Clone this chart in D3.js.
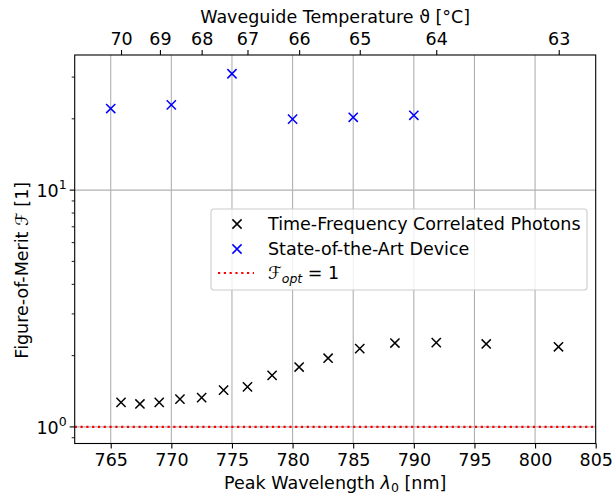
<!DOCTYPE html>
<html>
<head>
<meta charset="utf-8">
<script src="https://cdn.jsdelivr.net/npm/d3@7"></script>
<style>
  body { margin: 0; background: #fff; }
  text { font-family: "DejaVu Sans", sans-serif; fill: #000; }
</style>
</head>
<body>
<script>
// Constant
const w = 613;
const h = 495;
const fs = '17.5px', fsSmall = '12.5px';

// Data
const tfWavelength = [765.85, 767.41, 769.0, 770.71, 772.5, 774.31, 776.28, 778.31,
                      780.54, 782.93, 785.54, 788.44, 791.85, 795.97, 801.93];
const tfMerit = [1.27, 1.25, 1.27, 1.31, 1.33, 1.43, 1.475, 1.65,
                 1.79, 1.95, 2.14, 2.26, 2.27, 2.24, 2.18];
const sotaWavelength = [765, 770, 775, 780, 785, 790];
const sotaMerit = [22.1, 22.9, 31.0, 19.95, 20.3, 20.7];
const wlTicks = [765, 770, 775, 780, 785, 790, 795, 800, 805];
const tempTicks = [70, 69, 68, 67, 66, 65, 64, 63];
const tempTickWl = [765.85, 769.06, 772.5, 776.28, 780.54, 785.54, 791.85, 801.95];
const yMajor = [1, 10];
const yMinor = [0.9, 2, 3, 4, 5, 6, 7, 8, 9, 20, 30];
const fOpt = 1;

const pLeft = 74.7, pRight = 595.7, pTop = 55, pBottom = 443.5;

const svg = d3.select('body')
  .append('svg')
  .attr('width', w)
  .attr('height', h);

const x = d3.scaleLinear().domain([762.03, 805]).range([pLeft, pRight]);
const y = d3.scaleLog().domain([0.851, 37.2]).range([pBottom, pTop]);

// grid
svg.append('g').selectAll('line')
  .data(wlTicks.filter(d => d < 805))
  .enter().append('line')
  .attr('x1', d => x(d)).attr('x2', d => x(d))
  .attr('y1', pTop).attr('y2', pBottom)
  .attr('stroke', '#b0b0b0').attr('stroke-width', 1.1);
svg.append('g').selectAll('line')
  .data(yMajor)
  .enter().append('line')
  .attr('x1', pLeft).attr('x2', pRight)
  .attr('y1', d => y(d)).attr('y2', d => y(d))
  .attr('stroke', '#b0b0b0').attr('stroke-width', 1.1);

// F_opt line
svg.append('line')
  .attr('x1', pLeft).attr('x2', pRight)
  .attr('y1', y(fOpt)).attr('y2', y(fOpt))
  .attr('stroke', 'red').attr('stroke-width', 2.2)
  .attr('stroke-dasharray', '2.2,3.6');

// markers
function cross(g, px, py, col) {
  const s = 4.6;
  g.append('path')
    .attr('d', `M${px - s},${py - s}L${px + s},${py + s}M${px - s},${py + s}L${px + s},${py - s}`)
    .attr('stroke', col).attr('stroke-width', 1.5).attr('fill', 'none');
}
const marks = svg.append('g');
tfWavelength.forEach((d, i) => cross(marks, x(d), y(tfMerit[i]), '#000'));
sotaWavelength.forEach((d, i) => cross(marks, x(d), y(sotaMerit[i]), '#0000ff'));

// bottom axis
const xAxis = svg.append('g')
  .attr('transform', `translate(0,${pBottom})`)
  .call(d3.axisBottom(x).tickValues(wlTicks).tickSize(5).tickPadding(5).tickFormat(d3.format('d')));
xAxis.select('.domain').remove();
xAxis.selectAll('line').attr('stroke-width', 1.1);
xAxis.selectAll('text').style('font-size', fs).attr('font-family', null);

// top axis (temperature)
const tAxis = svg.append('g')
  .attr('transform', `translate(0,${pTop})`)
  .call(d3.axisTop(x).tickValues(tempTickWl).tickSize(5).tickPadding(5)
    .tickFormat((d, i) => tempTicks[i]));
tAxis.select('.domain').remove();
tAxis.selectAll('line').attr('stroke-width', 1.1);
tAxis.selectAll('text').style('font-size', fs);
svg.selectAll('.tick text').attr('fill', '#000');
svg.selectAll('g[font-family]').attr('font-family', null).attr('font-size', null);

// y axis
const yAxis = svg.append('g').attr('transform', `translate(${pLeft},0)`);
yAxis.selectAll('.minor')
  .data(yMinor).enter().append('line')
  .attr('x1', -3).attr('x2', 0)
  .attr('y1', d => y(d)).attr('y2', d => y(d))
  .attr('stroke', '#000').attr('stroke-width', 0.9);
yAxis.selectAll('.major')
  .data(yMajor).enter().append('line')
  .attr('x1', -5).attr('x2', 0)
  .attr('y1', d => y(d)).attr('y2', d => y(d))
  .attr('stroke', '#000').attr('stroke-width', 1.1);
const ylab = yAxis.selectAll('.lab')
  .data(yMajor).enter().append('text')
  .attr('x', -8).attr('y', d => y(d) + 7)
  .attr('text-anchor', 'end')
  .style('font-size', fs);
ylab.append('tspan').text('10');
ylab.append('tspan').attr('dy', -8).style('font-size', fsSmall).text(d => Math.round(Math.log10(d)));

// frame
svg.append('rect')
  .attr('x', pLeft).attr('y', pTop)
  .attr('width', pRight - pLeft).attr('height', pBottom - pTop)
  .attr('fill', 'none').attr('stroke', '#000').attr('stroke-width', 1.1);

// labels
const cx = (pLeft + pRight) / 2;
const xl = svg.append('text').attr('x', cx).attr('y', 489).attr('text-anchor', 'middle').style('font-size', fs);
xl.append('tspan').text('Peak Wavelength ');
xl.append('tspan').style('font-style', 'italic').text('λ');
xl.append('tspan').attr('dy', 3).style('font-size', fsSmall).text('0');
xl.append('tspan').attr('dy', -3).text(' [nm]');

svg.append('text').attr('x', cx).attr('y', 23).attr('text-anchor', 'middle')
  .style('font-size', fs).text('Waveguide Temperature ϑ [°C]');

const yl = svg.append('text')
  .attr('transform', `translate(28,${(pTop + pBottom) / 2 + 21}) rotate(-90)`)
  .attr('text-anchor', 'middle').style('font-size', fs);
yl.append('tspan').text('Figure-of-Merit ');
yl.append('tspan').style('font-style', 'italic').text('ℱ');
yl.append('tspan').text(' [1]');

// legend
const lg = svg.append('g').attr('transform', 'translate(211,209)');
lg.append('rect').attr('width', 376).attr('height', 81).attr('rx', 3)
  .attr('fill', '#fff').attr('fill-opacity', 0.8)
  .attr('stroke', '#cccccc').attr('stroke-width', 1.1);
const items = [
  { label: 'Time-Frequency Correlated Photons', col: '#000' },
  { label: 'State-of-the-Art Device', col: '#0000ff' }
];
items.forEach((it, i) => {
  cross(lg, 26, 15 + i * 25, it.col);
  lg.append('text').attr('x', 57).attr('y', 21 + i * 25).style('font-size', fs).text(it.label);
});
lg.append('line').attr('x1', 7).attr('x2', 43).attr('y1', 64).attr('y2', 64)
  .attr('stroke', 'red').attr('stroke-width', 2.2).attr('stroke-dasharray', '2.2,3.6');
const lt = lg.append('text').attr('x', 57).attr('y', 70).style('font-size', fs);
lt.append('tspan').style('font-style', 'italic').text('ℱ');
lt.append('tspan').attr('dy', 4).style('font-size', fsSmall).style('font-style', 'italic').text('opt');
lt.append('tspan').attr('dy', -4).text(' = 1');
</script>
</body>
</html>
